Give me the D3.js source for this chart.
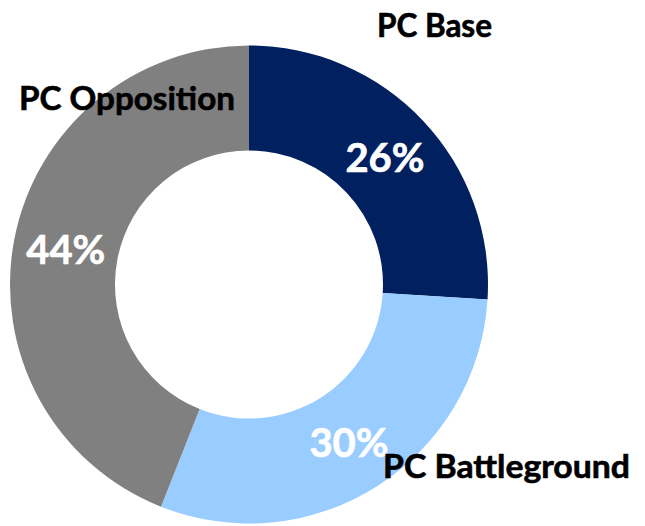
<!DOCTYPE html>
<html>
<head>
<meta charset="utf-8">
<script src="https://cdn.jsdelivr.net/npm/d3@7"></script>
<style>
  body { margin: 0; background: #fff; }
  text { font-family: Lato, "Open Sans", sans-serif; font-weight: bold; }
</style>
</head>
<body>
<div id="chart"></div>
<script>
const categories = ["PC Base", "PC Battleground", "PC Opposition"];
const shares = [26, 30, 44];
const sliceColors = ["#002060", "#99CCFF", "#808080"];

const cfg = {
  w: 645,
  h: 526,
  cx: 249,
  cy: 284.5,
  outerRadius: 239,
  innerRadius: 134,
  pctSize: 41,
  pctWidth: 79,
  labelSize: 31.5,
  // hand-placed category labels, offsets from the donut centre (baseline, middle)
  labelPos: [
    { dx: 185.5, dy: -248, w: 115 },
    { dx: 257.5, dy: 193.5, w: 247 },
    { dx: -122, dy: -175, w: 216 }
  ]
};

const svg = d3.select("#chart")
  .append("svg")
  .attr("width", cfg.w)
  .attr("height", cfg.h);

const g = svg.append("g")
  .attr("transform", `translate(${cfg.cx},${cfg.cy})`);

const pie = d3.pie()
  .sort(null)
  .value(d => d);

const arc = d3.arc()
  .innerRadius(cfg.innerRadius)
  .outerRadius(cfg.outerRadius);

const arcs = pie(shares);

g.selectAll(".slice")
  .data(arcs)
  .enter()
  .append("path")
  .attr("class", "slice")
  .attr("d", arc)
  .attr("fill", (d, i) => sliceColors[i]);

// percentages in the middle of each ring segment
g.selectAll(".pct")
  .data(arcs)
  .enter()
  .append("text")
  .attr("class", "pct")
  .attr("x", d => arc.centroid(d)[0])
  .attr("y", d => arc.centroid(d)[1])
  .attr("dy", "0.36em")
  .attr("text-anchor", "middle")
  .attr("fill", "#fff")
  .attr("stroke", "#fff")
  .attr("stroke-width", 0.7)
  .style("font-size", cfg.pctSize + "px")
  .attr("textLength", cfg.pctWidth)
  .attr("lengthAdjust", "spacingAndGlyphs")
  .text(d => d.data + "%");

// category names, drawn on top
g.selectAll(".cat")
  .data(categories)
  .enter()
  .append("text")
  .attr("class", "cat")
  .attr("x", (d, i) => cfg.labelPos[i].dx)
  .attr("y", (d, i) => cfg.labelPos[i].dy)
  .attr("text-anchor", "middle")
  .attr("fill", "#000")
  .attr("stroke", "#000")
  .attr("stroke-width", 0.6)
  .style("font-size", cfg.labelSize + "px")
  .attr("textLength", (d, i) => cfg.labelPos[i].w)
  .attr("lengthAdjust", "spacingAndGlyphs")
  .text(d => d);
</script>
</body>
</html>
